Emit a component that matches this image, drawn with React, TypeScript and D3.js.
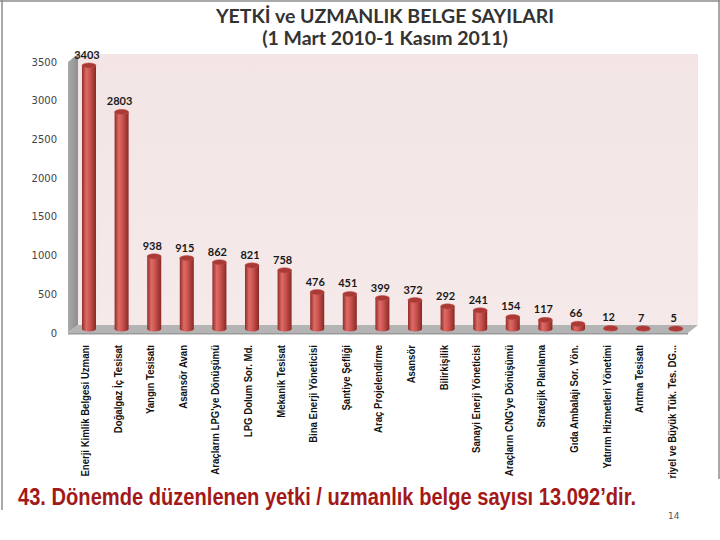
import * as d3 from "d3";

const categories = [
  "Enerji Kimlik Belgesi Uzmanı",
  "Doğalgaz İç Tesisat",
  "Yangın Tesisatı",
  "Asansör Avan",
  "Araçların LPG'ye Dönüşümü",
  "LPG Dolum Sor. Md.",
  "Mekanik Tesisat",
  "Bina Enerji Yöneticisi",
  "Şantiye Şefliği",
  "Araç Projelendirme",
  "Asansör",
  "Bilirkişilik",
  "Sanayi Enerji Yöneticisi",
  "Araçların CNG'ye Dönüşümü",
  "Stratejik Planlama",
  "Gıda Ambalajı Sor. Yön.",
  "Yatırım Hizmetleri Yönetimi",
  "Arıtma Tesisatı",
  "Endüstriyel ve Büyük Tük. Tes. DG...",
];
const values = [3403, 2803, 938, 915, 862, 821, 758, 476, 451, 399, 372, 292, 241, 154, 117, 66, 12, 7, 5];
const yTicks = [0, 500, 1000, 1500, 2000, 2500, 3000, 3500];

const W = 720;
const H = 540;
// wall / floor corners (3D offset dx, dy)
const left = 68, right = 688, floorY = 333, topY = 62, dx = 10, dy = -8;

export default function App() {
  const x = d3.scaleBand<string>()
    .domain(categories)
    .range([72.7, 692.1])
    .paddingInner(0.57)
    .paddingOuter(0.285);
  const yAxis = d3.scaleLinear().domain([0, 3500]).range([floorY, topY]);
  const yBar = d3.scaleLinear().domain([0, 3500]).range([floorY - 4, topY - 4]);
  const bw = x.bandwidth();
  const ry = 2.6;

  return (
    <svg width={W} height={H} style={{ position: "absolute", left: 0, top: 0 }}
      fontFamily="Lato, 'Open Sans', sans-serif">
      <defs>
        <linearGradient id="cyl" x1="0" x2="1" y1="0" y2="0">
          <stop offset="0" stopColor="#8f2c29" />
          <stop offset="0.3" stopColor="#de6b66" />
          <stop offset="0.55" stopColor="#cc5551" />
          <stop offset="1" stopColor="#8a2825" />
        </linearGradient>
        <linearGradient id="wallL" x1="0" x2="1" y1="0" y2="0">
          <stop offset="0" stopColor="#a9a9a9" />
          <stop offset="1" stopColor="#8f8f8f" />
        </linearGradient>
        <linearGradient id="back" x1="0" x2="0" y1="0" y2="1">
          <stop offset="0" stopColor="#f3e5e5" />
          <stop offset="1" stopColor="#f5e9e9" />
        </linearGradient>
      </defs>
      <rect width={W} height={H} fill="#fff" />
      {/* slide frame */}
      <line x1={2} x2={2} y1={0} y2={510} stroke="#8c8c8c" strokeWidth={1.5} />
      <line x1={0} x2={W} y1={1} y2={1} stroke="#8c8c8c" strokeWidth={1.5} />
      <line x1={719} x2={719} y1={0} y2={482} stroke="#8c8c8c" strokeWidth={1.5} />

      <text x={385} y={23} textAnchor="middle" fontSize={19.5} fontWeight={700} fill="#333">
        YETKİ ve UZMANLIK BELGE SAYILARI
      </text>
      <text x={385} y={45} textAnchor="middle" fontSize={19.5} fontWeight={700} fill="#333">
        (1 Mart 2010-1 Kasım 2011)
      </text>

      {/* back wall, side wall, floor */}
      <rect x={left + dx} y={topY + dy} width={right - left} height={floorY - topY} fill="url(#back)" />
      <polygon points={`${left},${topY} ${left + dx},${topY + dy} ${left + dx},${floorY + dy} ${left},${floorY}`}
        fill="url(#wallL)" />
      <polygon points={`${left + dx},${floorY + dy} ${right + dx},${floorY + dy} ${right},${floorY} ${left},${floorY}`}
        fill="#b4b4b4" />
      <rect x={left} y={floorY} width={right - left} height={1.5} fill="#9a9a9a" />

      {yTicks.map(t => (
        <text key={t} x={57} y={yAxis(t)} dy="0.35em" textAnchor="end" fontSize={10}
          fontFamily="'DejaVu Sans', sans-serif" fill="#444">{t}</text>
      ))}

      {categories.map((c, i) => {
        const cx = (x(c) ?? 0) + bw / 2;
        const y0 = yBar(0);
        const y1 = yBar(values[i]);
        return (
          <g key={c}>
            <ellipse cx={cx} cy={y0} rx={bw / 2} ry={ry} fill="url(#cyl)" />
            <rect x={cx - bw / 2} y={y1} width={bw} height={y0 - y1} fill="url(#cyl)" />
            <ellipse cx={cx} cy={y1} rx={bw / 2} ry={ry} fill="#a93a36" stroke="#c4514d" strokeWidth={0.5} />
            <text x={cx - 2} y={y1 - ry - 4} textAnchor="middle" fontSize={11} fontWeight={700} fill="#1a1a1a">
              {values[i]}
            </text>
            <text transform={`translate(${cx},345) rotate(-90) scale(0.85,1)`} textAnchor="end" fontSize={11.3}
              fontWeight={700} fontFamily="'Liberation Sans', Arial, sans-serif"
              fill="#111">{c}</text>
          </g>
        );
      })}

      {/* bottom text box */}
      <rect x={4} y={479} width={716} height={61} fill="#fff" />
      <text transform="translate(18,505) scale(1,1.18)" fontSize={19.5} fontWeight={700}
        textLength={618} lengthAdjust="spacingAndGlyphs"
        fontFamily="'Liberation Sans', Arial, sans-serif" fill="#a31818">
        43. Dönemde düzenlenen yetki / uzmanlık belge sayısı 13.092’dir.
      </text>
      <text x={668} y={519} fontSize={9} fontFamily="'DejaVu Sans', sans-serif" fill="#555">14</text>
    </svg>
  );
}
